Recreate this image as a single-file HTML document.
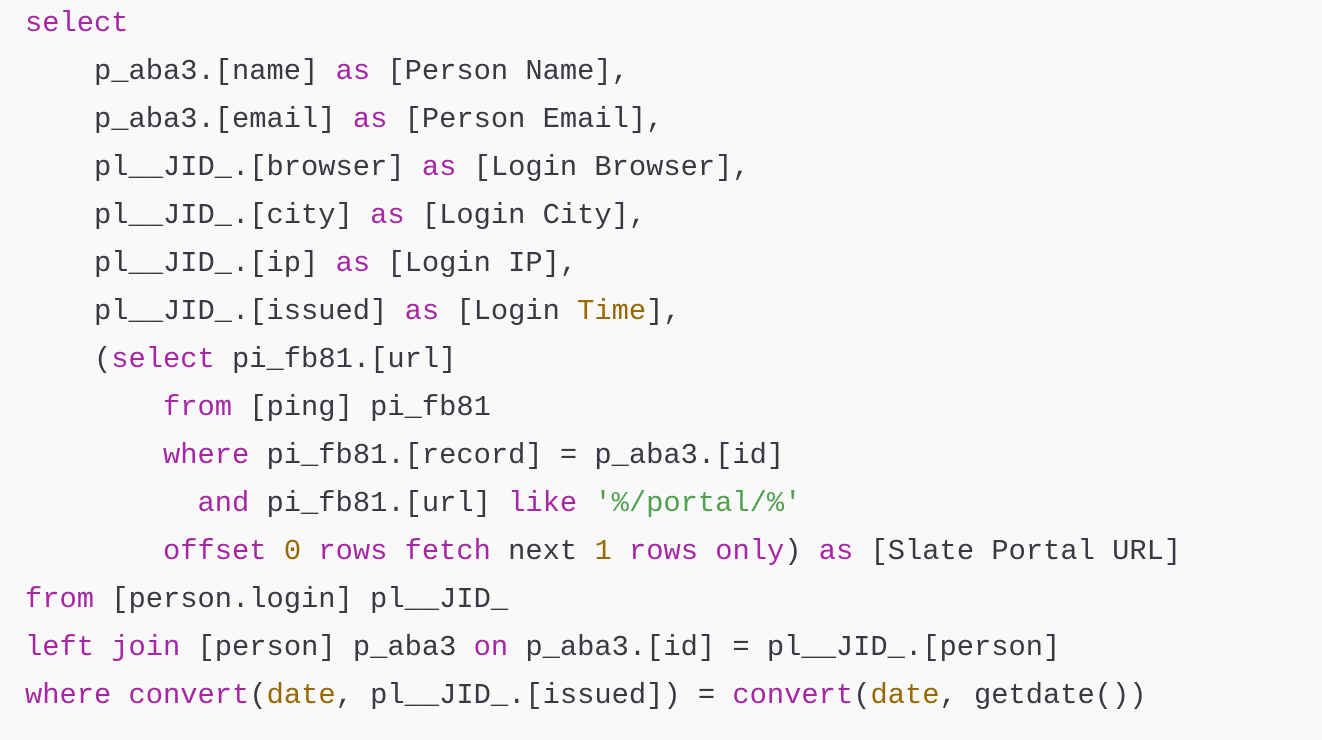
<!DOCTYPE html>
<html><head><meta charset="utf-8"><style>
html,body{margin:0;padding:0;background:#f9f9f9;width:1322px;height:740px;overflow:hidden}
pre{margin:0;position:absolute;left:25px;top:0px;font-family:"Liberation Mono",monospace;font-size:28.75px;line-height:48px;color:#383a42}
.k{color:#a626a4}.n{color:#986801}.s{color:#50a14f}
</style></head><body><pre><span class="k">select</span>
    p_aba3.[name] <span class="k">as</span> [Person Name],
    p_aba3.[email] <span class="k">as</span> [Person Email],
    pl__JID_.[browser] <span class="k">as</span> [Login Browser],
    pl__JID_.[city] <span class="k">as</span> [Login City],
    pl__JID_.[ip] <span class="k">as</span> [Login IP],
    pl__JID_.[issued] <span class="k">as</span> [Login <span class="n">Time</span>],
    (<span class="k">select</span> pi_fb81.[url]
        <span class="k">from</span> [ping] pi_fb81
        <span class="k">where</span> pi_fb81.[record] = p_aba3.[id]
          <span class="k">and</span> pi_fb81.[url] <span class="k">like</span> <span class="s">'%/portal/%'</span>
        <span class="k">offset</span> <span class="n">0</span> <span class="k">rows</span> <span class="k">fetch</span> next <span class="n">1</span> <span class="k">rows</span> <span class="k">only</span>) <span class="k">as</span> [Slate Portal URL]
<span class="k">from</span> [person.login] pl__JID_
<span class="k">left</span> <span class="k">join</span> [person] p_aba3 <span class="k">on</span> p_aba3.[id] = pl__JID_.[person]
<span class="k">where</span> <span class="k">convert</span>(<span class="n">date</span>, pl__JID_.[issued]) = <span class="k">convert</span>(<span class="n">date</span>, getdate())</pre></body></html>
